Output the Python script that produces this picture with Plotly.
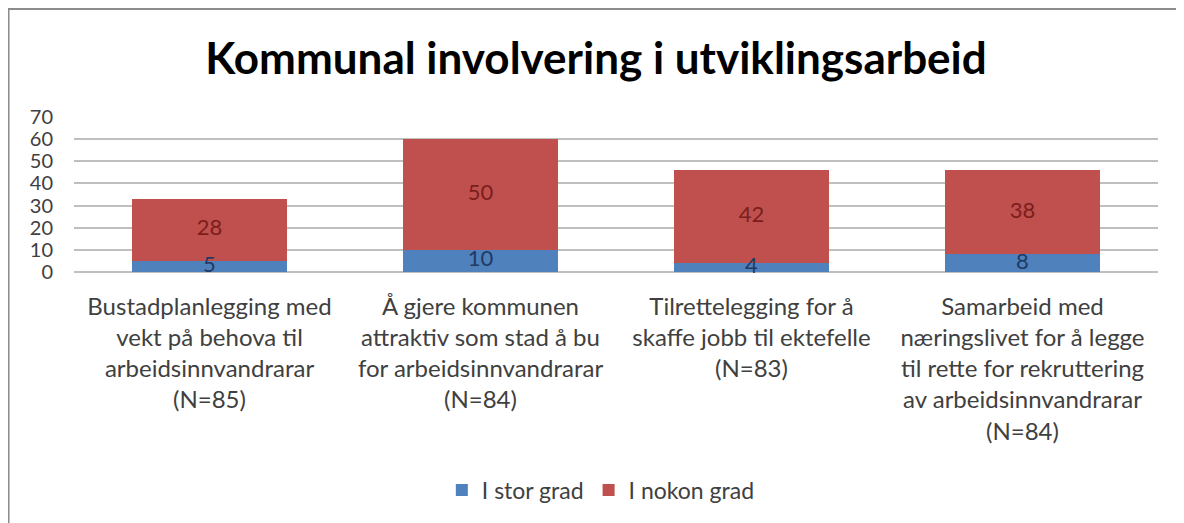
import plotly.graph_objects as go

categories = [
    "Bustadplanlegging med<br>vekt på behova til<br>arbeidsinnvandrarar<br>(N=85)",
    "Å gjere kommunen<br>attraktiv som stad å bu<br>for arbeidsinnvandrarar<br>(N=84)",
    "Tilrettelegging for å<br>skaffe jobb til ektefelle<br>(N=83)",
    "Samarbeid med<br>næringslivet for å legge<br>til rette for rekruttering<br>av arbeidsinnvandrarar<br>(N=84)",
]
stor_grad = [5, 10, 4, 8]
nokon_grad = [28, 50, 42, 38]
y_ticks = [0, 10, 20, 30, 40, 50, 60, 70]

FONT = "Lato"

fig = go.Figure()
fig.add_trace(go.Bar(x=categories, y=stor_grad, name="I stor grad",
                     marker=dict(color="#4F81BD", line=dict(width=0))))
fig.add_trace(go.Bar(x=categories, y=nokon_grad, name="I nokon grad",
                     marker=dict(color="#C0504D", line=dict(width=0))))

# data labels drawn on top of both stacks, centred in each segment
fig.add_trace(go.Scatter(
    x=categories, y=[v / 2 for v in stor_grad], mode="text",
    text=[str(v) for v in stor_grad], showlegend=False, hoverinfo="skip",
    cliponaxis=False, textfont=dict(family=FONT, size=22, color="#1F3B63"),
))
fig.add_trace(go.Scatter(
    x=categories, y=[s + n / 2 for s, n in zip(stor_grad, nokon_grad)],
    mode="text", text=[str(v) for v in nokon_grad], showlegend=False,
    hoverinfo="skip", cliponaxis=False,
    textfont=dict(family=FONT, size=22, color="#7A1E1C"),
))

# outer chart border (Excel chart area)
fig.add_shape(type="rect", xref="paper", yref="paper",
              x0=-0.0604, x1=1.0231, y0=-1.8, y1=1.697,
              line=dict(color="#8C8C8C", width=2), layer="below")

fig.update_layout(
    width=1176, height=515,
    margin=dict(l=66, r=26, t=109, b=251),
    paper_bgcolor="white", plot_bgcolor="white",
    barmode="stack", bargap=0.428,
    font=dict(family=FONT, color="#404040"),
    title=dict(text="<b>Kommunal involvering i utviklingsarbeid</b>",
               x=0.5, xref="container", xanchor="center",
               y=0.901, yanchor="middle",
               font=dict(family=FONT, size=44, color="black")),
    legend=dict(orientation="h", x=0.486, xref="paper", xanchor="center",
                y=-1.406, yanchor="middle",
                font=dict(family=FONT, size=23, color="#404040"),
                itemwidth=30, traceorder="normal"),
    showlegend=True,
)
fig.update_xaxes(showgrid=False, showline=False, zeroline=False,
                 ticks="outside", ticklen=13, tickcolor="rgba(0,0,0,0)",
                 tickfont=dict(family=FONT, size=24, color="#404040"))
fig.update_yaxes(range=[0, 70], tickvals=y_ticks, showgrid=True,
                 gridcolor="#BFBFBF", gridwidth=1.5, zeroline=True,
                 zerolinecolor="#BFBFBF", zerolinewidth=1.5,
                 showline=False, ticks="", ticklabelstandoff=20,
                 tickfont=dict(family=FONT, size=20, color="#404040"))

fig.write_html("out.html")
